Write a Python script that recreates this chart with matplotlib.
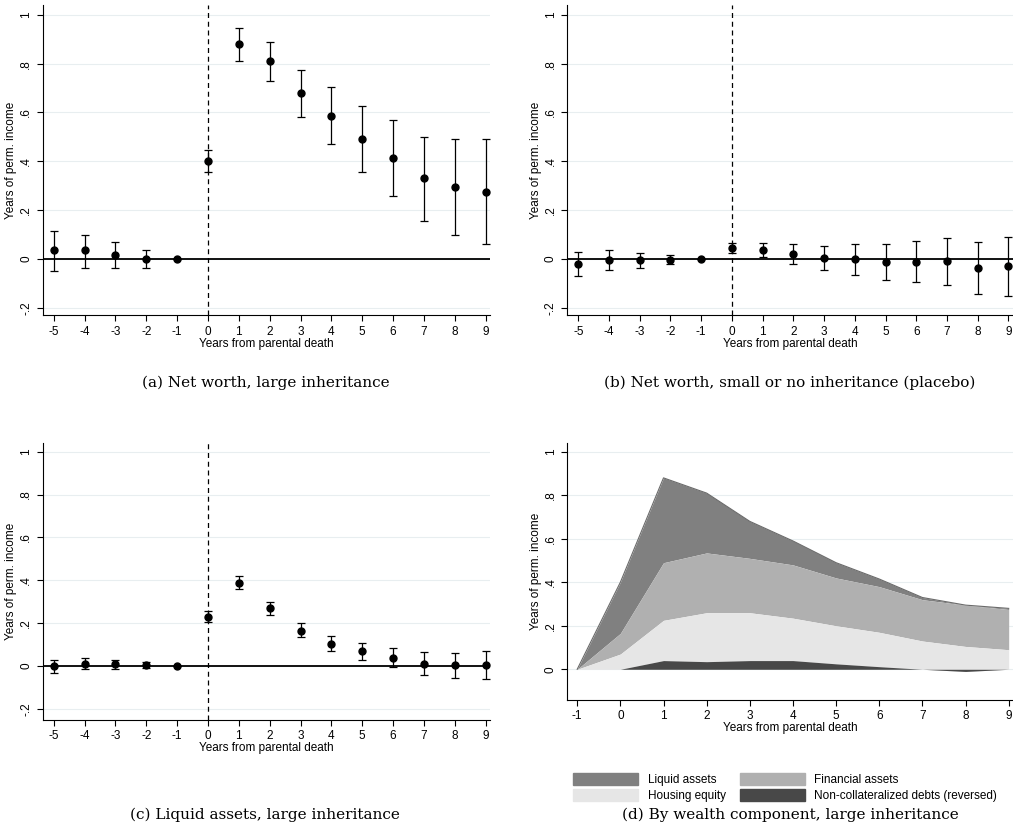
import matplotlib
matplotlib.use("Agg")
import matplotlib.pyplot as plt
import matplotlib.patches as mpatches
import numpy as np

plt.rcParams["font.family"] = ["Liberation Sans", "DejaVu Sans"]
plt.rcParams["axes.unicode_minus"] = False

years = np.arange(-5, 10)

a_est = [0.035, 0.035, 0.018, 0.0, 0.0, 0.40, 0.88, 0.81, 0.68, 0.585, 0.49, 0.415, 0.33, 0.295, 0.275]
a_lo = [-0.05, -0.035, -0.035, -0.035, 0.0, 0.355, 0.81, 0.73, 0.58, 0.47, 0.355, 0.26, 0.155, 0.10, 0.06]
a_hi = [0.115, 0.10, 0.07, 0.035, 0.0, 0.445, 0.945, 0.89, 0.775, 0.705, 0.625, 0.57, 0.50, 0.49, 0.49]

b_est = [-0.02, -0.005, -0.005, -0.005, 0.0, 0.045, 0.035, 0.02, 0.005, 0.0, -0.012, -0.012, -0.01, -0.035, -0.03]
b_lo = [-0.07, -0.045, -0.035, -0.02, 0.0, 0.025, 0.01, -0.02, -0.045, -0.065, -0.085, -0.095, -0.105, -0.145, -0.15]
b_hi = [0.03, 0.035, 0.025, 0.015, 0.0, 0.065, 0.065, 0.06, 0.055, 0.06, 0.06, 0.075, 0.085, 0.07, 0.09]

c_est = [0.0, 0.012, 0.008, 0.005, 0.0, 0.23, 0.39, 0.27, 0.165, 0.105, 0.07, 0.04, 0.012, 0.005, 0.005]
c_lo = [-0.03, -0.015, -0.015, -0.01, 0.0, 0.205, 0.36, 0.24, 0.135, 0.07, 0.03, -0.005, -0.04, -0.055, -0.06]
c_hi = [0.03, 0.04, 0.03, 0.02, 0.0, 0.255, 0.42, 0.30, 0.20, 0.14, 0.11, 0.085, 0.065, 0.06, 0.07]

d_years = np.arange(-1, 10)
d_debt = [0, 0, 0.04, 0.035, 0.04, 0.04, 0.025, 0.012, 0, -0.01, 0]
d_housing_top = [0, 0.07, 0.225, 0.26, 0.26, 0.235, 0.20, 0.17, 0.13, 0.105, 0.09]
d_financial_top = [0, 0.165, 0.49, 0.535, 0.51, 0.48, 0.42, 0.38, 0.32, 0.295, 0.275]
d_total = [0, 0.40, 0.88, 0.81, 0.68, 0.59, 0.49, 0.415, 0.33, 0.295, 0.28]

yticks = [-0.2, 0, 0.2, 0.4, 0.6, 0.8, 1]
ylabels = ["-.2", "0", ".2", ".4", ".6", ".8", "1"]
GRID = "#e8eef0"

fig = plt.figure(figsize=(10.13, 8.36), dpi=100)


def style(ax, ticks, labels):
    ax.set_yticks(ticks)
    ax.set_yticklabels(labels, rotation=90, va="center")
    for t in ticks:
        ax.axhline(t, color=GRID, lw=0.8, zorder=0)
    for s in ("top", "right"):
        ax.spines[s].set_visible(False)
    ax.tick_params(labelsize=8.5, length=4)
    ax.set_ylabel("Years of perm. income", fontsize=8.5, labelpad=2)
    ax.set_xlabel("Years from parental death", fontsize=8.5, labelpad=0)


def event_panel(rect, est, lo, hi):
    ax = fig.add_axes(rect)
    est = np.array(est)
    err = [est - np.array(lo), np.array(hi) - est]
    ax.axhline(0, color="black", lw=1.3, zorder=1)
    ax.axvline(0, color="black", lw=0.9, ls=(0, (4, 3)), zorder=1)
    ax.errorbar(years, est, yerr=err, fmt="o", color="black", ms=5,
                elinewidth=0.9, capsize=3, capthick=0.9, zorder=3)
    ax.set_xlim(-5.36, 9.15)
    ax.set_xticks(years)
    style(ax, yticks, ylabels)
    return ax


axa = event_panel([0.042, 0.623, 0.442, 0.371], a_est, a_lo, a_hi)
axa.set_ylim(-0.23, 1.04)
axb = event_panel([0.560, 0.623, 0.440, 0.371], b_est, b_lo, b_hi)
axb.set_ylim(-0.23, 1.04)
axc = event_panel([0.042, 0.139, 0.442, 0.331], c_est, c_lo, c_hi)
axc.set_ylim(-0.25, 1.04)

axd = fig.add_axes([0.560, 0.163, 0.440, 0.307])
zero = np.zeros(len(d_years))
axd.fill_between(d_years, d_financial_top, d_total, color="#808080", lw=0, zorder=2)
axd.fill_between(d_years, d_housing_top, d_financial_top, color="#b0b0b0", lw=0, zorder=2)
axd.fill_between(d_years, d_debt, d_housing_top, color="#e6e6e6", lw=0, zorder=2)
axd.fill_between(d_years, zero, d_debt, color="#484848", lw=0, zorder=2)
axd.plot(d_years, d_total, color="#6a6a6a", lw=0.8, zorder=3)
axd.set_xlim(-1.23, 9.1)
axd.set_ylim(-0.14, 1.04)
axd.set_xticks(d_years)
style(axd, yticks[1:], ylabels[1:])

handles = [mpatches.Patch(color="#808080", label="Liquid assets"),
           mpatches.Patch(color="#b0b0b0", label="Financial assets"),
           mpatches.Patch(color="#e6e6e6", label="Housing equity"),
           mpatches.Patch(color="#484848", label="Non-collateralized debts (reversed)")]
fig.legend(handles=[handles[0], handles[2], handles[1], handles[3]], ncol=2,
           loc="center", bbox_to_anchor=(0.775, 0.058), frameon=False,
           fontsize=8.5, handlelength=5.5, handleheight=1.2, columnspacing=1.2,
           handletextpad=0.8, labelspacing=0.25)

cap = dict(ha="center", va="center", fontsize=11, family="DejaVu Serif")
fig.text(0.262, 0.542, "(a) Net worth, large inheritance", **cap)
fig.text(0.780, 0.542, "(b) Net worth, small or no inheritance (placebo)", **cap)
fig.text(0.262, 0.025, "(c) Liquid assets, large inheritance", **cap)
fig.text(0.780, 0.025, "(d) By wealth component, large inheritance", **cap)

fig.savefig("out.png", dpi=100)
